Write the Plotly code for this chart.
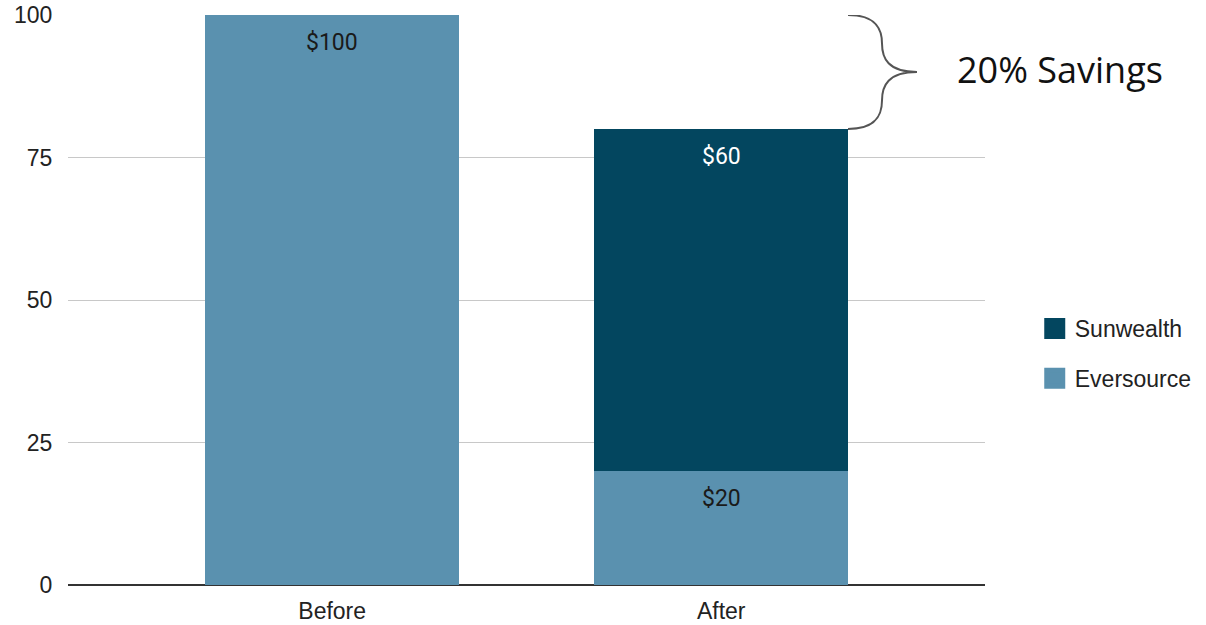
import plotly.graph_objects as go

categories = ["Before", "After"]
eversource = [100, 20]
sunwealth = [None, 60]
eversource_labels = ["$100", "$20"]
sunwealth_labels = ["", "$60"]
y_ticks = [0, 25, 50, 75, 100]
savings_text = "20% Savings"

LIGHT = "#5a91af"
DARK = "#03465f"

fig = go.Figure()
fig.add_trace(go.Bar(x=categories, y=eversource, name="Eversource", showlegend=False,
                     marker=dict(color=LIGHT, line=dict(width=0), cornerradius=0), width=0.653))
fig.add_trace(go.Bar(x=categories, y=sunwealth, name="Sunwealth", showlegend=False,
                     marker=dict(color=DARK, line=dict(width=0), cornerradius=4), width=0.653))

# legend entries with larger square swatches
fig.add_trace(go.Scatter(x=[None], y=[None], mode="markers", name="Eversource",
                         legendgroup="e", legendrank=2,
                         marker=dict(symbol="square", size=16, color=LIGHT,
                                     line=dict(color=LIGHT, width=5))))
fig.add_trace(go.Scatter(x=[None], y=[None], mode="markers", name="Sunwealth",
                         legendgroup="s", legendrank=1,
                         marker=dict(symbol="square", size=16, color=DARK,
                                     line=dict(color=DARK, width=5))))

# value labels near the top of each segment
for i, c in enumerate(categories):
    if eversource_labels[i]:
        fig.add_annotation(x=c, y=eversource[i], text=eversource_labels[i], showarrow=False,
                           yshift=-27, font=dict(family="Roboto", size=23, color="#1a1a1a"))
    if sunwealth_labels[i] and sunwealth[i]:
        fig.add_annotation(x=c, y=eversource[i] + sunwealth[i], text=sunwealth_labels[i], showarrow=False,
                           yshift=-27, font=dict(family="Roboto", size=23, color="#ffffff"))

# brace from Before total to After total
top = eversource[0] + (sunwealth[0] or 0)
bot = eversource[1] + (sunwealth[1] or 0)
mid = (top + bot) / 2
d = top - bot
def px(p):
    return (p - 68) / 917
x0, x1, x2 = px(848), px(882), px(917)
path = (f"M {x0},{top} C {px(876)},{top} {x1},{top - d*0.12} {x1},{top - d*0.25} "
        f"C {x1},{mid + d*0.12} {px(888)},{mid} {x2},{mid} "
        f"C {px(888)},{mid} {x1},{mid - d*0.12} {x1},{bot + d*0.25} "
        f"C {x1},{bot + d*0.12} {px(876)},{bot} {x0},{bot}")
fig.add_shape(type="path", path=path, xref="paper", yref="y",
              line=dict(color="#555555", width=2))
fig.add_annotation(x=px(955), y=mid, xref="paper", yref="y", text=savings_text,
                   showarrow=False, xanchor="left", yanchor="middle", yshift=3,
                   font=dict(family="Open Sans", size=36, color="#111111"))

fig.update_layout(
    width=1206, height=625,
    margin=dict(l=68, r=221, t=15, b=40, autoexpand=False),
    barmode="stack",
    plot_bgcolor="white", paper_bgcolor="white",
    font=dict(family="Liberation Sans, Arial", size=23, color="#222222"),
    legend=dict(xref="container", yref="container", x=0.858, y=0.4344,
                xanchor="left", yanchor="middle",
                traceorder="grouped", font=dict(size=23, color="#222"),
                itemwidth=30, tracegroupgap=17),
    showlegend=True,
)
fig.update_xaxes(range=[-0.679, 1.678], showgrid=False, showline=False,
                 ticks="outside", ticklen=5, tickcolor="white",
                 tickfont=dict(size=23), automargin=False,
                 ticklabeloverflow="allow")
fig.update_yaxes(range=[0, 100], tickvals=y_ticks, showgrid=True,
                 gridcolor="#c8c8c8", gridwidth=1, zeroline=True,
                 zerolinecolor="#333333", zerolinewidth=2,
                 ticks="outside", ticklen=10, tickcolor="white",
                 tickfont=dict(size=23), automargin=False,
                 ticklabeloverflow="allow")

fig.write_html("out.html", config={"displayModeBar": False},
               post_script="document.body.style.margin='0';document.body.style.overflow='hidden';")
